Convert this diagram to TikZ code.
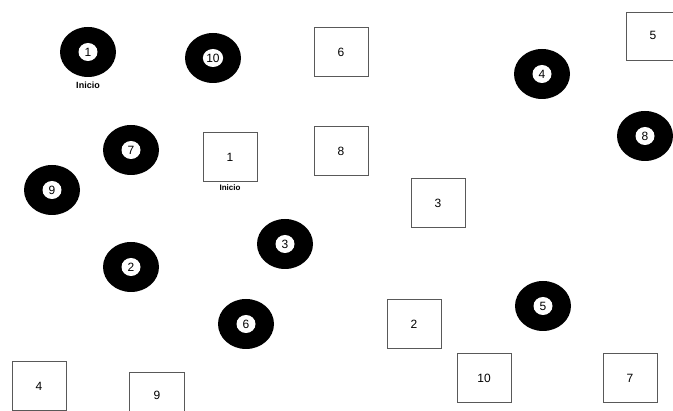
\documentclass[tikz,border=0pt]{standalone}
\usepackage{fontspec}
\setmainfont{Liberation Sans}
\usetikzlibrary{shapes.geometric}
\begin{document}
\begin{tikzpicture}[x=1pt,y=-1pt,
  ball/.style={ellipse,fill=black,minimum width=56pt,minimum height=50pt,inner sep=0pt},
  core/.style={ellipse,fill=white,minimum width=19pt,minimum height=18pt,inner sep=0.5pt,font=\fontsize{12}{12}\selectfont},
  sq/.style={draw=black!65,line width=0.8pt,fill=white,minimum width=54pt,minimum height=49pt,inner sep=0pt,font=\fontsize{12}{12}\selectfont},
  num/.style={font=\fontsize{12}{12}\selectfont,inner sep=0pt},
  tag/.style={font=\bfseries\fontsize{9}{9}\selectfont,inner sep=0pt}]
\useasboundingbox (0,0) rectangle (673,411);
\fill[white] (0,0) rectangle (673,411);
% circles
\foreach \n/\x/\y in {1/88/52,10/213/58,7/131/150,9/52/190,2/131/267,3/285/244,6/246/324,4/542/74,8/645/136,5/543/306}{
  \node[ball] (b\n) at (\x,\y) {};
  \node[core] (c\n) at (b\n.center) {\n};
}
\node[tag] (t1) at (88,85) {Inicio};
% squares
\node[sq] (s6) at (341,52) {6};
\node[sq] (s1) at (230,157) {1};
\node[tag,font=\bfseries\fontsize{8}{8}\selectfont] (t2) at (230,188) {Inicio};
\node[sq] (s8) at (341,151) {8};
\node[sq] (s3) at (438,203) {3};
\node[sq] (s2) at (414,324) {2};
\node[sq] (s10) at (484,378) {10};
\node[sq] (s7) at (630,378) {7};
\node[sq] (s4) at (39,386) {4};
\node[sq,minimum width=55pt,minimum height=52pt] (s9) at (157,398) {};
\node[num] (l9) at (157,395) {9};
\node[sq,minimum width=56pt,minimum height=48pt] (s5) at (654,36) {};
\node[num] (l5) at (653,35) {5};
\end{tikzpicture}
\end{document}
